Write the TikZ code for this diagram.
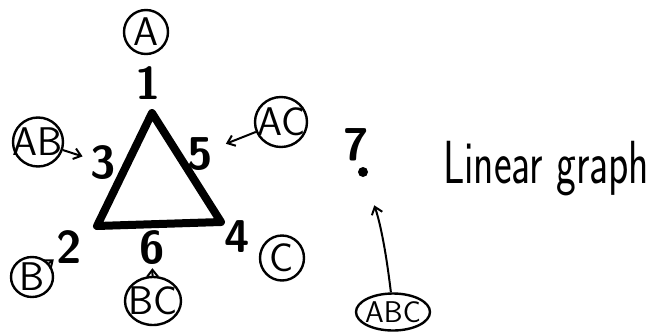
\documentclass[tikz,border=0pt]{standalone}
\usepackage{fontspec}
\usepackage{graphicx}
\usetikzlibrary{arrows.meta,shapes.geometric}
\begin{document}
\begin{tikzpicture}[x=1pt,y=-1pt,
    num/.style={font=\fontsize{46}{46}\selectfont\sffamily\bfseries, inner sep=0pt},
    tag/.style={ellipse, draw, line width=2.4pt, inner ysep=0pt, inner xsep=-9pt, font=\fontsize{40}{40}\selectfont\sffamily},
    ptr/.style={-{Straight Barb[length=7pt,width=11pt]}, line width=2pt, shorten >=3pt}]
  \useasboundingbox (0,0) rectangle (666,335);
  \coordinate (v1) at (152,113); \coordinate (v2) at (97,226); \coordinate (v4) at (221,222);
  \draw[line width=8pt, line join=round] (v1) -- (v2) -- (v4) -- cycle;
  \node[num] (n1) at (148,83) {1};  \node[num] (n2) at (69,247) {2};  \node[num] (n3) at (103,163) {3};
  \node[num] (n4) at (237,237) {4}; \node[num] (n5) at (200,154) {5}; \node[num] (n6) at (152,248) {6};
  \node[num] (n7) at (356,145) {7};
  \node[circle, fill, inner sep=0pt, minimum size=10pt] (d7) at (363,172) {};
  \node[tag, minimum width=44pt, minimum height=44pt] (tA) at (146,32) {A};
  \node[tag, minimum width=50pt, minimum height=49pt] (tAB) at (38,142) {AB};
  \node[tag, minimum width=52pt, minimum height=50pt] (tAC) at (281,122) {AC};
  \node[tag, minimum width=42pt, minimum height=40pt] (tB) at (32,277) {B};
  \node[tag, minimum width=56pt, minimum height=48pt] (tBC) at (153,301) {BC};
  \node[tag, minimum width=44pt, minimum height=45pt] (tC) at (282,258) {C};
  \node[tag, minimum width=74pt, minimum height=37pt, inner xsep=-8pt, font=\fontsize{30}{30}\selectfont\sffamily] (tABC) at (393,312) {ABC};
  \draw[ptr, shorten >=8pt] (tAB) -- (n3);
  \draw[ptr, shorten >=14pt] (tAC) -- (n5);
  \draw[ptr] (tB) -- (n2);
  \draw[ptr] (tBC) -- (n6);
  \draw[ptr, shorten >=30pt] (tABC) to[bend right=6] (d7);
  \node[anchor=base west, inner sep=0pt, font=\fontsize{42}{42}\selectfont\sffamily] (lg) at (443,183) {\scalebox{1}[1.45]{Linear graph}};
\end{tikzpicture}
\end{document}
